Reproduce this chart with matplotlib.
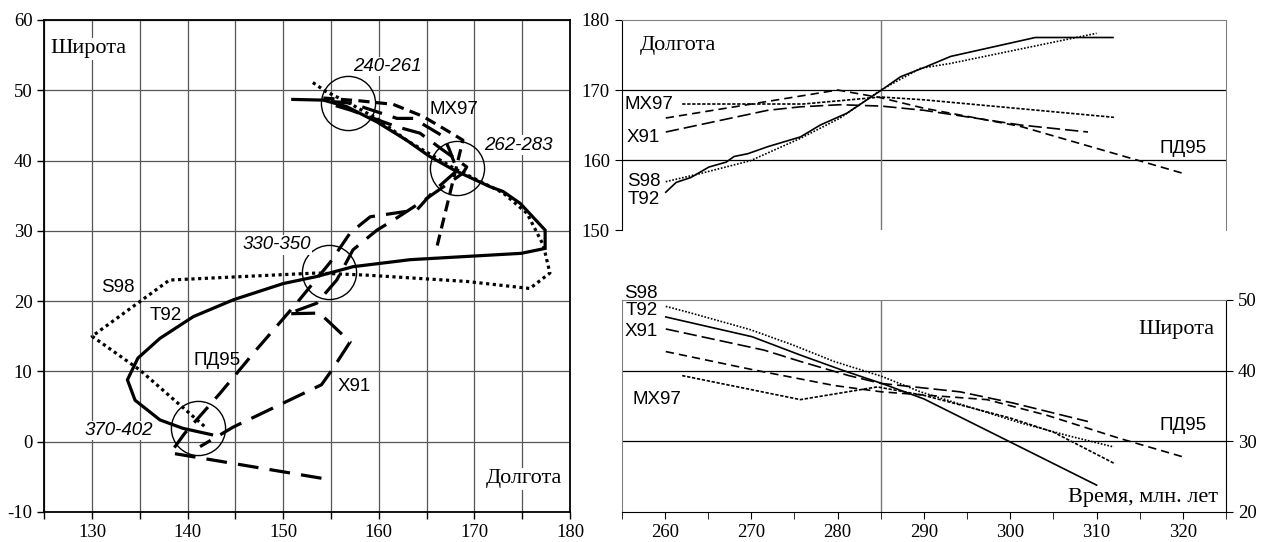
import matplotlib
matplotlib.use('Agg')
import matplotlib.pyplot as plt
import numpy as np

plt.rcParams['axes.unicode_minus'] = False
SERIF = 'Liberation Serif'
SANS = 'Liberation Sans'

# ---- левый график: траектории (долгота / широта) ----
t92_lon = [151.0, 154.2, 156.6, 159.8, 162.9, 165.3, 167.8, 171.6, 173.0, 174.8, 177.4, 177.4, 174.9,
           163.3, 157.3, 153.5, 150.0, 144.8, 140.6, 137.1, 134.8, 133.7, 134.5, 137.1, 139.5, 142.5]
t92_lat = [48.7, 48.6, 47.7, 45.5, 42.9, 40.6, 38.7, 36.3, 35.6, 33.9, 30.1, 27.5, 26.8,
           25.9, 24.9, 23.5, 22.5, 20.2, 17.8, 14.7, 11.9, 8.8, 5.9, 3.1, 1.9, 1.0]

s98_lon = [153.1, 154.5, 157.0, 160.0, 163.0, 168.0, 173.0, 175.5, 177.2, 177.9, 175.8, 169.2, 158.7,
           153.5, 138.1, 130.0, 135.0, 142.0]
s98_lat = [51.1, 49.8, 48.1, 45.8, 42.8, 38.8, 35.4, 32.5, 28.0, 24.0, 21.8, 22.8, 23.7,
           24.0, 23.0, 15.0, 10.2, 1.9]

mx97_lon = [154.2, 158.0, 161.5, 164.6, 167.1, 168.8, 166.0]
mx97_lat = [48.9, 48.5, 48.0, 46.3, 44.3, 42.9, 27.3]

pd95_lon = [155.0, 157.0, 161.9, 163.6, 166.8, 167.4, 168.2, 165.7, 164.0, 159.1, 157.0, 154.9,
            151.4, 147.2, 143.4, 139.7, 138.2, 154.0]
pd95_lat = [48.4, 48.2, 46.0, 46.0, 43.4, 41.5, 38.6, 35.6, 33.0, 32.0, 29.7, 25.5,
            19.7, 13.1, 6.9, 1.2, -1.6, -5.2]

x91_lon = [155.5, 157.0, 161.9, 164.3, 166.7, 169.2, 168.8, 165.0, 161.5, 159.8, 157.3, 155.6,
           153.5, 150.5, 153.8, 157.0, 155.1, 154.0, 144.8, 141.3]
x91_lat = [47.8, 47.2, 44.8, 43.9, 41.5, 39.1, 38.2, 34.6, 31.5, 30.1, 27.3, 23.0,
           19.7, 18.2, 18.3, 14.2, 10.2, 8.1, 2.1, -0.7]

# кружки и возрасты
circle_lon = [156.8, 168.2, 154.8, 141.1]
circle_lat = [48.2, 39.0, 24.1, 2.0]
age_labels = ['240-261', '262-283', '330-350', '370-402']
age_lon = [160.9, 174.6, 149.3, 132.8]
age_lat = [53.4, 42.2, 28.0, 1.6]

# ---- правые графики: время ----
t92_t = [260.1, 261.3, 263.0, 265.1, 267.1, 268.0, 269.6, 271.9, 275.7, 278.0, 281.1, 283.4, 285.1,
         287.3, 290.2, 293.1, 302.9, 311.9]
t92_dlg = [155.4, 156.8, 157.5, 159.0, 159.7, 160.5, 160.9, 161.9, 163.3, 165.0, 166.7, 168.6, 170.0,
           171.9, 173.3, 174.8, 177.5, 177.5]
s98_t = [260.1, 264.2, 269.9, 275.7, 280.3, 285.0, 289.6, 293.1, 310.0]
s98_dlg = [156.9, 158.1, 159.9, 163.1, 166.0, 170.0, 173.1, 173.8, 178.1]
mx97_t = [262.0, 276.0, 285.0, 290.0, 312.0]
mx97_dlg = [168.0, 168.0, 169.0, 168.6, 166.1]
pd95_t = [260.1, 280.0, 285.0, 290.0, 301.2, 320.0]
pd95_dlg = [166.0, 170.0, 168.9, 167.4, 164.8, 158.1]
x91_t = [260.1, 271.9, 275.7, 280.3, 285.1, 290.0, 301.2, 309.0]
x91_dlg = [164.0, 167.1, 167.6, 167.9, 167.7, 167.1, 165.0, 164.0]

t92_shr_t = [260.1, 270.1, 275.7, 280.7, 285.1, 290.0, 300.0, 310.0]
t92_shr = [47.6, 44.8, 42.2, 40.0, 38.2, 36.0, 29.9, 23.8]
s98_shr_t = [260.1, 262.6, 269.9, 274.9, 279.6, 285.1, 289.6, 301.2, 307.0, 312.0]
s98_shr = [49.1, 48.3, 45.8, 43.6, 41.3, 39.2, 37.0, 32.6, 30.7, 29.2]
mx97_shr_t = [262.0, 275.7, 284.6, 290.0, 300.0, 305.0, 312.0]
mx97_shr = [39.3, 35.9, 37.7, 36.5, 33.3, 31.3, 26.9]
pd95_shr_t = [260.1, 270.3, 279.6, 285.1, 297.3, 304.2, 312.7, 320.0]
pd95_shr = [42.7, 40.1, 37.9, 37.0, 35.9, 33.7, 30.4, 27.8]
x91_shr_t = [260.1, 271.5, 275.7, 281.3, 285.0, 294.2, 300.4, 309.0]
x91_shr = [45.9, 42.9, 41.3, 39.3, 38.2, 37.0, 35.4, 32.8]

LAB = 13.5   # подписи серий
TTL = 16     # подписи осей
TCK = 13.5   # метки на осях

fig = plt.figure(figsize=(12.72, 5.42), dpi=100)

# левый
ax = fig.add_axes([0.0348, 0.0554, 0.4133, 0.9077])
ax.set_xlim(125, 180)
ax.set_ylim(-10, 60)
ax.set_xticks(np.arange(130, 181, 10))
ax.set_xticks(np.arange(125, 181, 10), minor=True)
ax.set_yticks(np.arange(-10, 61, 10))
ax.grid(True, which='both', axis='x', color='#555555', lw=0.9)
ax.grid(True, which='major', axis='y', color='#555555', lw=0.9)
ax.tick_params(which='both', direction='out', length=5, width=1, labelsize=TCK)
for lab in ax.get_xticklabels() + ax.get_yticklabels():
    lab.set_family(SERIF)
for s in ax.spines.values():
    s.set_linewidth(1.3)
ax.set_axisbelow(True)

lw = 2.3
ax.plot(t92_lon, t92_lat, color='black', lw=lw, solid_joinstyle='miter')
ax.plot(s98_lon, s98_lat, color='black', lw=lw, dashes=(1, 1.1))
ax.plot(mx97_lon, mx97_lat, color='black', lw=lw, dashes=(3.5, 2))
ax.plot(pd95_lon, pd95_lat, color='black', lw=lw, dashes=(6.5, 3.5))
ax.plot(x91_lon, x91_lat, color='black', lw=lw, dashes=(7.5, 3.5))

ax.plot(circle_lon, circle_lat, 'o', ms=39, mfc='none', mec='black', mew=1.0)
for txt, x, y in zip(age_labels, age_lon, age_lat):
    ax.text(x, y, txt, fontsize=LAB, style='italic', family=SANS, ha='center', va='center',
            bbox=dict(facecolor='white', edgecolor='none', pad=1))

ax.text(129.6, 55.9, 'Широта', fontsize=TTL, family=SERIF, ha='center', va='center',
        bbox=dict(facecolor='white', edgecolor='none', pad=1))
ax.text(175.2, -5.3, 'Долгота', fontsize=TTL, family=SERIF, ha='center', va='center',
        bbox=dict(facecolor='white', edgecolor='none', pad=1))
ax.text(132.7, 22.0, 'S98', fontsize=LAB, family=SANS, ha='center', va='center')
ax.text(137.7, 17.9, 'T92', fontsize=LAB, family=SANS, ha='center', va='center')
ax.text(143.1, 11.5, 'ПД95', fontsize=LAB, family=SANS, ha='center', va='center')
ax.text(157.4, 7.9, 'X91', fontsize=LAB, family=SANS, ha='center', va='center')
ax.text(167.9, 47.3, 'MX97', fontsize=LAB, family=SANS, ha='center', va='center')

# верхний правый: долгота
ax1 = fig.add_axes([0.4888, 0.5756, 0.4751, 0.3875])
ax1.set_xlim(255, 325)
ax1.set_ylim(150, 180)
ax1.set_yticks([150, 160, 170, 180])
ax1.tick_params(axis='x', bottom=False, labelbottom=False)
ax1.tick_params(axis='y', direction='out', length=5, labelsize=TCK)
for lab in ax1.get_yticklabels():
    lab.set_family(SERIF)
for y in [160, 170]:
    ax1.axhline(y, color='black', lw=0.9, zorder=0)
ax1.axvline(285, color='#777777', lw=1.0, zorder=0)
ax1.spines['bottom'].set_visible(False)
ax1.spines['top'].set_color('#808080')
ax1.spines['right'].set_color('#808080')

tlw = 1.2
ax1.plot(t92_t, t92_dlg, color='black', lw=tlw)
ax1.plot(s98_t, s98_dlg, color='black', lw=tlw, dashes=(1, 1))
ax1.plot(mx97_t, mx97_dlg, color='black', lw=tlw, dashes=(2, 1))
ax1.plot(pd95_t, pd95_dlg, color='black', lw=tlw, dashes=(5, 3))
ax1.plot(x91_t, x91_dlg, color='black', lw=tlw, dashes=(8, 3))

ax1.text(261.5, 176.3, 'Долгота', fontsize=TTL, family=SERIF, ha='center', va='center')
ax1.text(258.2, 168.0, 'MX97', fontsize=LAB, family=SANS, ha='center', va='center')
ax1.text(257.5, 163.2, 'X91', fontsize=LAB, family=SANS, ha='center', va='center')
ax1.text(257.6, 156.9, 'S98', fontsize=LAB, family=SANS, ha='center', va='center')
ax1.text(257.6, 154.4, 'T92', fontsize=LAB, family=SANS, ha='center', va='center')
ax1.text(320, 161.6, 'ПД95', fontsize=LAB, family=SANS, ha='center', va='center')

# нижний правый: широта
ax2 = fig.add_axes([0.4888, 0.0554, 0.4751, 0.3911])
ax2.set_xlim(255, 325)
ax2.set_ylim(20, 50)
ax2.set_xticks(np.arange(260, 321, 10))
ax2.set_xticks(np.arange(255, 326, 5), minor=True)
ax2.set_yticks([20, 30, 40, 50])
ax2.yaxis.tick_right()
ax2.tick_params(which='both', direction='out', length=5, labelsize=TCK)
for lab in ax2.get_xticklabels() + ax2.get_yticklabels():
    lab.set_family(SERIF)
for y in [30, 40]:
    ax2.axhline(y, color='black', lw=0.9, zorder=0)
ax2.axvline(285, color='#777777', lw=1.0, zorder=0)
ax2.spines['top'].set_color('#808080')
ax2.spines['left'].set_color('#808080')

ax2.plot(t92_shr_t, t92_shr, color='black', lw=tlw)
ax2.plot(s98_shr_t, s98_shr, color='black', lw=tlw, dashes=(1, 1))
ax2.plot(mx97_shr_t, mx97_shr, color='black', lw=tlw, dashes=(2, 1))
ax2.plot(pd95_shr_t, pd95_shr, color='black', lw=tlw, dashes=(5, 3))
ax2.plot(x91_shr_t, x91_shr, color='black', lw=tlw, dashes=(8, 3))

ax2.text(257.2, 50.9, 'S98', fontsize=LAB, family=SANS, ha='center', va='center')
ax2.text(257.3, 48.5, 'T92', fontsize=LAB, family=SANS, ha='center', va='center')
ax2.text(257.3, 45.5, 'X91', fontsize=LAB, family=SANS, ha='center', va='center')
ax2.text(259.1, 35.9, 'MX97', fontsize=LAB, family=SANS, ha='center', va='center')
ax2.text(319.2, 45.8, 'Широта', fontsize=TTL, family=SERIF, ha='center', va='center')
ax2.text(320, 32.2, 'ПД95', fontsize=LAB, family=SANS, ha='center', va='center')
ax2.text(315.4, 22.1, 'Время, млн. лет', fontsize=TTL, family=SERIF, ha='center', va='center')

fig.savefig('out.png', dpi=100)
